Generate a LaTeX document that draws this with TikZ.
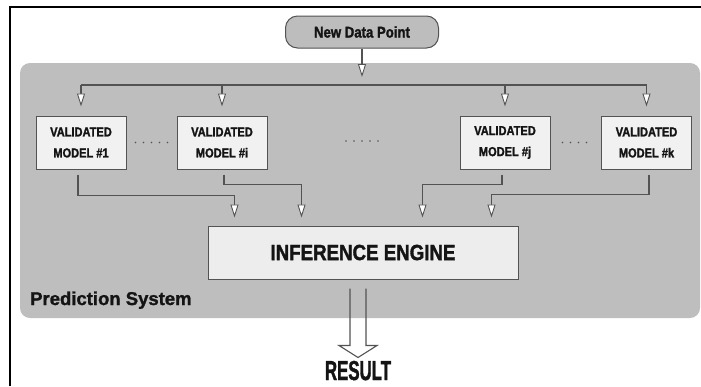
\documentclass[tikz,border=0pt]{standalone}
\usepackage{fontspec}
\usepackage{graphicx}
\setmainfont{Liberation Sans}[BoldFeatures={FakeBold=1.3}]
\newfontfamily\condfont{Liberation Sans}[FakeStretch=0.85,BoldFeatures={FakeStretch=0.85,FakeBold=1.6}]
\usetikzlibrary{arrows.meta,calc}

\definecolor{panelgrey}{HTML}{BEBEBE}
\definecolor{linegrey}{HTML}{535353}
\definecolor{boxfill}{HTML}{F1F1F1}
\definecolor{enginefill}{HTML}{EDEDED}
\definecolor{pillfill}{HTML}{BDBDBD}
\definecolor{inkcol}{HTML}{141414}

\tikzset{
  conn/.style={draw=linegrey, line width=1.3pt},
  tip/.style={-{Triangle[length=13pt,width=8pt,fill=white,line width=0.9pt]}},
  modelbox/.style={draw=linegrey, line width=1pt, fill=boxfill, minimum width=90pt,
    minimum height=53pt, inner sep=0pt, align=center, text=inkcol,
    font=\condfont\bfseries\fontsize{13}{21}\selectfont},
  enginebox/.style={draw=linegrey, line width=1pt, fill=enginefill, minimum width=310pt,
    minimum height=53pt, inner sep=0pt, text=inkcol,
    font=\condfont\bfseries\fontsize{22}{22}\selectfont},
  pill/.style={draw=linegrey, line width=1pt, fill=pillfill, rounded corners=12pt,
    minimum width=153pt, minimum height=32pt, inner sep=0pt, text=inkcol,
    font=\condfont\bfseries\fontsize{15.5}{15.5}\selectfont},
  dotrow/.style={draw=linegrey, line width=1.7pt, line cap=round, dash pattern=on 0pt off 8pt}
}

\begin{document}
\begin{tikzpicture}[x=1pt,y=-1pt]
\useasboundingbox (0,0) rectangle (701,386);

% outer frame (left and top edges)
\draw[line width=1.5pt, black] (10,386) -- (10,7) -- (701,7);

% prediction system panel
\fill[panelgrey, rounded corners=10pt] (20,63) rectangle (700,318);
\node[anchor=base west, inner sep=0pt, text=inkcol,
      font=\bfseries\fontsize{18.5}{18.5}\selectfont] (ps) at (30,305) {Prediction System};

% input
\node[pill] (ndp) at (362,32) {New Data Point};

% models
\node[modelbox] (m1) at (81,142.5)  {VALIDATED\\MODEL \#1};
\node[modelbox] (mi) at (222,142.5) {VALIDATED\\MODEL \#i};
\node[modelbox] (mj) at (505,142.5) {VALIDATED\\MODEL \#j};
\node[modelbox] (mk) at (646.5,142.5) {VALIDATED\\MODEL \#k};

% engine
\node[enginebox] (ie) at (363,252.5) {INFERENCE ENGINE};

% dots between models
\coordinate (gapL) at (346,141);
\coordinate (gapR) at (379,141);
\draw[dotrow] ($(m1.east)+(9,0)$) -- ($(mi.west)+(-9,0)$);
\draw[dotrow] (gapL) -- (gapR);
\draw[dotrow] ($(mj.east)+(12,0)$) -- ($(mk.west)+(-9,0)$);

% distribution bus
\coordinate (busy) at (0,85);
\coordinate (hub) at (ndp.south |- busy);
\draw[conn,tip,shorten >=8pt] (ndp.south) -- (hub);
\draw[conn] (m1.north |- busy) -- (mk.north |- busy);
\foreach \m in {m1,mi,mj,mk}
  \draw[conn,tip,shorten >=9pt] (\m.north |- busy) -- (\m.north);

% engine inputs
\coordinate (in1) at ($(ie.north west)+(27,0)$);
\coordinate (in2) at ($(ie.north west)+(94,0)$);
\coordinate (in3) at ($(ie.north west)+(215,0)$);
\coordinate (in4) at ($(ie.north west)+(284,0)$);
\draw[conn,tip,shorten <=5pt,shorten >=8pt] ($(m1.south)+(-3,0)$) -- ++(0,26) -| (in1);
\draw[conn,tip,shorten <=5pt,shorten >=8pt] ($(mi.south)+(2,0)$) -- ++(0,15) -| (in2);
\draw[conn,tip,shorten <=5pt,shorten >=8pt] ($(mj.south)+(-3,0)$) -- ++(0,15) -| (in3);
\draw[conn,tip,shorten <=5pt,shorten >=8pt] ($(mk.south)+(2.5,0)$) -- ++(0,25) -| (in4);

% result arrow
\coordinate (rtop) at ($(ie.south)+(-5,9)$);
\draw[linegrey, line width=1.1pt, line join=miter]
  ($(rtop)+(-8,0)$) -- ++(0,57) -- ++(-11,0) -- ++(19,12) -- ++(19,-12) -- ++(-11,0) -- ++(0,-57);
\node[anchor=base, inner sep=0pt, text=inkcol] (res) at (358,380)
  {\condfont\bfseries\fontsize{27.5}{27.5}\selectfont\scalebox{0.72}[1]{RESULT}};
\end{tikzpicture}
\end{document}
